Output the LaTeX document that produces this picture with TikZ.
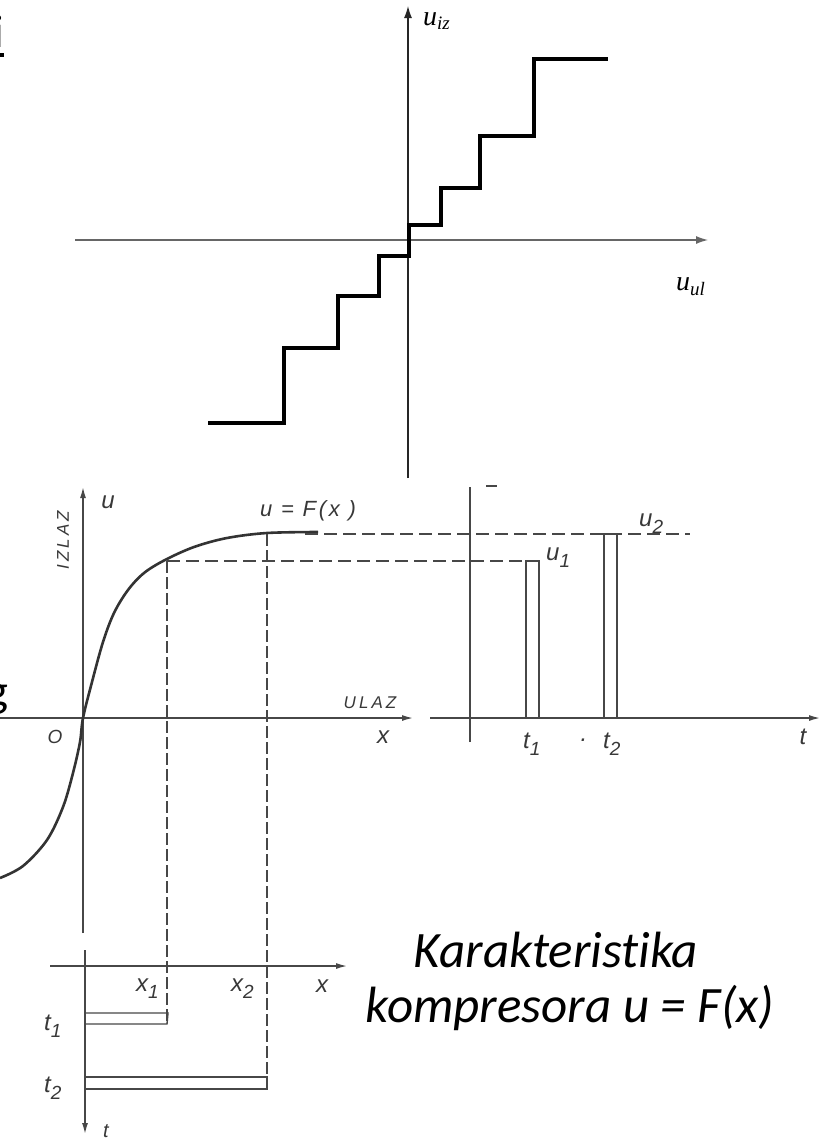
\documentclass[tikz,border=0pt]{standalone}
\usepackage{fontspec}
\setmainfont{Liberation Serif}
\newfontfamily\slidefont{Carlito}[Ligatures=NoCommon]
\newfontfamily\scanfont{Liberation Sans}[LetterSpace=12]
\newfontfamily\scancaps{Liberation Sans}[LetterSpace=18]
\usetikzlibrary{arrows.meta}
\newcommand\lsub[2]{#1\raisebox{-0.32em}{\fontsize{19}{19}\selectfont #2}}
\begin{document}
\begin{tikzpicture}[x=1pt,y=-1pt,
  ax/.style={line width=1.2pt, draw=black!85},
  tipA/.style={-{Latex[length=12pt,width=8pt]}},
  tipS/.style={-{Latex[length=11pt,width=6pt]}},
  stair/.style={line width=3.6pt, line join=miter},
  sc/.style={draw=black!72, line width=1.4pt},
  hdash/.style={sc, dash pattern=on 13pt off 6pt},
  vdash/.style={sc, dash pattern=on 12pt off 4pt},
  curve/.style={draw=black!80, line width=2.6pt},
  lab/.style={inner sep=0pt, text=black!78, font=\scanfont\itshape\fontsize{24}{24}\selectfont},
  caps/.style={inner sep=0pt, text=black!78, font=\scancaps\itshape\fontsize{17}{17}\selectfont},
  tlab/.style={inner sep=0pt, font=\itshape\fontsize{28}{28}\selectfont},
  slide/.style={inner sep=0pt, font=\slidefont\itshape\fontsize{51}{56}\selectfont}
]
\useasboundingbox (0,0) rectangle (821,1143);
\fill[white] (0,0) rectangle (821,1143);

% ---- slide text fragments at the left edge ----
\node[inner sep=0pt, anchor=base west, font=\slidefont\fontsize{46.5}{56}\selectfont] (ifrag) at (-6.5,47) {i};
\coordinate (ul0) at (-12,55); \coordinate (ul1) at (4,55);
\draw[line width=3.6pt] (ul0) -- (ul1);
\node[inner sep=0pt, anchor=base east, font=\slidefont\fontsize{46.5}{56}\selectfont] (gfrag) at (8.5,706) {g};

% ---- top chart: staircase quantiser ----
\coordinate (ty0) at (408,478); \coordinate (ty1) at (408,6);
\coordinate (tx0) at (75,240);  \coordinate (tx1) at (708,240);
\draw[ax,tipA] (ty0) -- (ty1);
\draw[ax,tipA,draw=black!60] (tx0) -- (tx1);
\node[tlab, anchor=base west] (uiz) at (423,25) {u\raisebox{-4pt}{\fontsize{19}{19}\selectfont iz}};
\node[tlab, anchor=base west] (uul) at (676,290) {u\raisebox{-5pt}{\fontsize{19}{19}\selectfont ul}};
\draw[stair] (208,423) -- (284,423) -- (284,348) -- (338,348) -- (338,296)
  -- (379,296) -- (379,256) -- (409,256) -- (409,225) -- (441,225)
  -- (441,188) -- (480,188) -- (480,136) -- (534,136) -- (534,59) -- (608,59);

% ---- middle-left: compressor characteristic ----
\coordinate (O) at (83,718);
\coordinate (uBot) at (83,933); \coordinate (uTop) at (83,487);
\coordinate (xL) at (0,718);    \coordinate (xR) at (413,718);
\draw[sc,tipS] (uBot) -- (uTop);
\draw[sc,tipS] (xL) -- (xR);
\draw[curve] plot[smooth, tension=0.55] coordinates {(0,878) (23,866) (47,840) (63,807) (73,773) (80,742) (83,718) (92,682) (103,642) (114,613) (128,590) (144,573) (165,560) (194,547) (227,538) (267,533) (318,532)};
\node[lab] (ulab) at (108,502) {u};
\node[caps, rotate=90] (izlaz) at (63,540) {IZLAZ};
\node[lab, font=\scanfont\itshape\fontsize{22}{22}\selectfont] (ueqf) at (308,511) {u = F(x )};
\node[caps] (ulaz) at (370,703) {ULAZ};
\node[lab] (xlab) at (383,737) {x};
\node[lab, font=\scanfont\itshape\fontsize{19}{19}\selectfont] (olab) at (55,737) {O};

% ---- dashed projections ----
\coordinate (p1) at (167,561); \coordinate (p2) at (267,534);
\coordinate (p1r) at (526,561); \coordinate (p2s) at (305,534); \coordinate (p2r) at (690,534);
\coordinate (q1) at (167,1024); \coordinate (q2) at (267,1089);
\draw[hdash] (p1) -- (p1r);
\draw[hdash] (p2s) -- (p2r);
\draw[vdash] (p1) -- (q1);
\draw[vdash] (p2) -- (q2);

% ---- right: output pulses in time ----
\coordinate (rB) at (470,742); \coordinate (rT) at (470,487);
\draw[sc] (rB) -- (rT);
\coordinate (mk0) at (486,486); \coordinate (mk1) at (497,486);
\draw[sc] (mk0) -- (mk1);
\coordinate (tL) at (430,718); \coordinate (tR) at (820,718);
\draw[sc,tipS] (tL) -- (tR);
\draw[sc] (526,718) -- (p1r) -- (539,561) -- (539,718);
\draw[sc] (604,718) -- (604,534) -- (617,534) -- (617,718);
\node[lab, anchor=base west] (u1) at (546,560) {\lsub{u}{1}};
\node[lab, anchor=base west] (u2) at (639,526) {\lsub{u}{2}};
\node[lab, anchor=base west] (t1r) at (523,748) {\lsub{t}{1}};
\node[lab] (dot) at (584,740) {.};
\node[lab, anchor=base west] (t2r) at (603,748) {\lsub{t}{2}};
\node[lab] (trl) at (803,737) {t};

% ---- bottom-left: input pulse widths ----
\coordinate (bxL) at (50,966); \coordinate (bxR) at (347,966);
\draw[sc,tipS] (bxL) -- (bxR);
\coordinate (tTop) at (85,950); \coordinate (tBot) at (85,1134);
\draw[sc,tipS] (tTop) -- (tBot);
\draw[sc] (85,1013) -- (168,1013) -- (q1) -- (85,1024);
\draw[sc] (85,1077) -- (267,1077) -- (q2) -- (85,1089);
\node[lab, anchor=base west] (x1) at (136,991) {\lsub{x}{1}};
\node[lab, anchor=base west] (x2) at (231,991) {\lsub{x}{2}};
\node[lab] (xb) at (322,986) {x};
\node[lab, anchor=base west] (t1l) at (44,1030) {\lsub{t}{1}};
\node[lab, anchor=base west] (t2l) at (44,1092) {\lsub{t}{2}};
\node[lab, font=\scanfont\itshape\fontsize{20}{20}\selectfont] (tbl) at (106,1131) {t};

% ---- caption ----
\node[slide, anchor=base] (cap1) at (556,967) {Karakteristika};
\node[slide, anchor=base] (cap2) at (570,1022) {kompresora u = F(x)};
\end{tikzpicture}
\end{document}
